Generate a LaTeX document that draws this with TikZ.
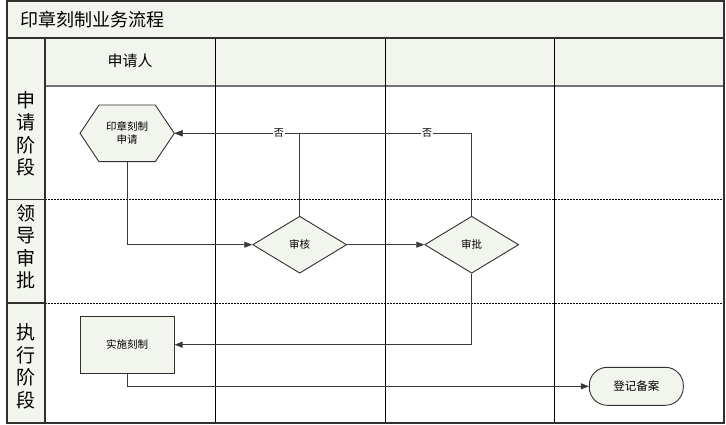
\documentclass[tikz,border=0pt]{standalone}
\usepackage{fontspec}
\setmainfont{Noto Sans CJK SC}
\usetikzlibrary{shapes.geometric,arrows.meta}
\definecolor{paneFill}{HTML}{F2F5EE}
\definecolor{frameLine}{HTML}{303030}
\definecolor{linkLine}{HTML}{3A3A3A}
\tikzset{
  frame/.style={draw=frameLine, line width=1.3pt},
  thinframe/.style={draw=black, line width=1pt},
  dashsep/.style={draw=black, line width=1pt, dash pattern=on 2pt off 1pt},
  shapefill/.style={fill=paneFill, draw=frameLine, line width=0.9pt},
  plain/.style={inner sep=0pt, font=\fontsize{10.5}{13}\selectfont, align=center},
  decide/.style={diamond, shapefill, aspect=1.65, minimum width=94pt, minimum height=57pt, inner sep=0pt, font=\fontsize{10.5}{13}\selectfont},
  proc/.style={rectangle, shapefill, minimum width=94pt, minimum height=57pt, inner sep=0pt, font=\fontsize{10.5}{13}\selectfont},
  term/.style={rectangle, rounded corners=18pt, shapefill, minimum width=94pt, minimum height=38pt, inner sep=0pt, font=\fontsize{11.5}{13}\selectfont},
  link/.style={draw=linkLine, line width=0.9pt, -{Triangle[length=8pt,width=6pt]}},
  nolabel/.style={fill=white, inner sep=0.8pt, font=\fontsize{10}{11}\selectfont},
  phase/.style={align=center, font=\fontsize{19}{22.5}\selectfont, inner sep=0pt},
}
\begin{document}
\begin{tikzpicture}[x=1pt,y=-1pt]
\useasboundingbox (0,0) rectangle (726,425);
% fills
\fill[paneFill] (7,1) rectangle (724,38);
\fill[paneFill] (45,38) rectangle (724,86);
\fill[paneFill] (7,38) rectangle (45,423);
% separators
\draw[dashsep] (45,199.5) -- (724,199.5);
\draw[dashsep] (45,303) -- (724,303);
\draw[draw=gray!90!black, line width=1.5pt] (45,86) -- (724,86);
\draw[thinframe] (215,38) -- (215,423);
\draw[thinframe] (385,38) -- (385,423);
\draw[thinframe] (554,38) -- (554,423);
\draw[frame] (7,38) -- (724,38);
\draw[frame] (45,38) -- (45,423);
\draw[frame] (7,199.5) -- (45,199.5);
\draw[frame] (7,303) -- (45,303);
\draw[frame] (7,1) rectangle (724,423);
% texts
\node[anchor=west, inner sep=0pt, font=\fontsize{18}{20}\selectfont] (title) at (20,19.5) {印章刻制业务流程};
\node[inner sep=0pt, font=\fontsize{15}{17}\selectfont] (lane1) at (130,61) {申请人};
\node[phase] (ph1) at (26,134) {申\\请\\阶\\段};
\node[phase] (ph2) at (26,246.5) {领\\导\\审\\批};
\node[phase] (ph3) at (26,366.5) {执\\行\\阶\\段};
% shapes
\path[shapefill] (80,133.3) -- (99,105) -- (155.3,105) -- (174.3,133.3) -- (155.3,161.7) -- (99,161.7) -- cycle;
\node[plain, minimum width=94.3pt, minimum height=56.7pt] (apply) at (127.15,133.3) {印章刻制\\申请};
\node[decide] (review) at (299.7,244.7) {审核};
\node[decide] (approve) at (471.7,244.7) {审批};
\node[proc] (carve) at (127.15,344.7) {实施刻制};
\node[term] (record) at (636.3,386.3) {登记备案};
% connectors
\draw[link] (approve.north) |- (apply.east) node[nolabel, pos=0.575] (no2) {否};
\draw[link] (review.north) |- (apply.east) node[nolabel, pos=0.583] (no1) {否};
\draw[link] (apply.south) |- (review.west);
\draw[link] (review.east) -- (approve.west);
\draw[link] (approve.south) |- (carve.east);
\draw[link] (carve.south) |- (record.west);
\end{tikzpicture}
\end{document}
